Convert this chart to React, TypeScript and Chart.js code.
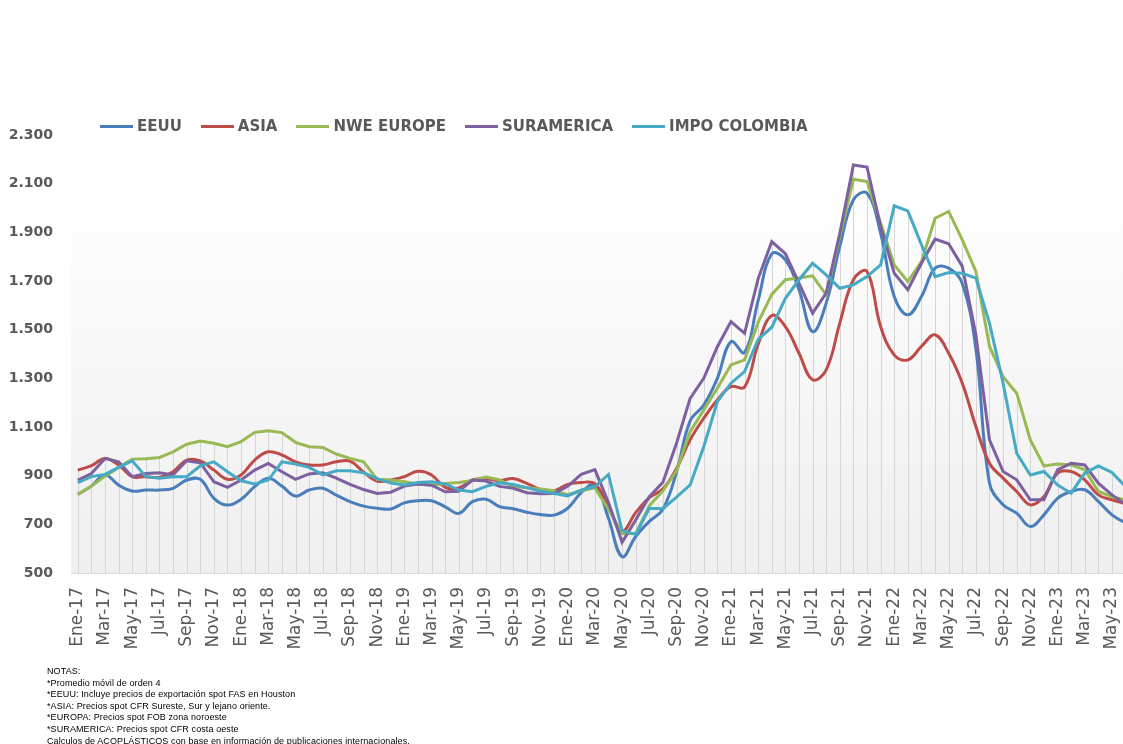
import React, { useEffect, useRef } from "react";
import { Chart, registerables } from "chart.js";

Chart.register(...registerables);

const monthNames = ["Ene", "Feb", "Mar", "Abr", "May", "Jun", "Jul", "Ago", "Sep", "Oct", "Nov", "Dic"];
const years = ["17", "18", "19", "20", "21", "22", "23"];
const lastYearMonths = 6;

const categories: string[] = [];
years.forEach((yy, yi) => {
  const n = yi === years.length - 1 ? lastYearMonths : 12;
  for (let m = 0; m < n; m++) categories.push(`${monthNames[m]}-${yy}`);
});

const eeuu = [
  823, 857, 903, 861, 837, 841, 841, 848, 882, 885, 807, 779,
  803, 855, 889, 857, 816, 841, 848, 820, 793, 775, 766, 763,
  788, 797, 797, 772, 745, 793, 803, 773, 764, 750, 740, 738,
  766, 830, 862, 725, 567, 650, 712, 762, 915, 1125, 1190, 1300,
  1451, 1406, 1620, 1812, 1787, 1664, 1492, 1609, 1842, 2034, 2061, 1896,
  1636, 1561, 1636, 1753, 1753, 1690, 1420, 870, 780, 746, 691, 739,
  807, 835, 842, 794, 739, 705,
];
const asia = [
  923, 941, 971, 944, 896, 896, 893, 916, 964, 961, 923, 885,
  903, 964, 998, 985, 957, 944, 944, 957, 960, 915, 878, 882,
  896, 918, 903, 852, 850, 882, 887, 880, 888, 868, 843, 838,
  864, 872, 867, 773, 672, 748, 810, 846, 930, 1047, 1136, 1211,
  1266, 1264, 1440, 1558, 1513, 1403, 1294, 1335, 1527, 1705, 1739, 1513,
  1396, 1376, 1431, 1479, 1403, 1280, 1102, 951, 890, 835, 780, 814,
  910, 917, 883, 821, 801, 785,
];
const nweEurope = [
  823, 857, 898, 934, 968, 970, 975, 998, 1029, 1042, 1033, 1019,
  1040, 1078, 1085, 1077, 1037, 1019, 1016, 989, 971, 957, 885, 882,
  875, 866, 861, 868, 872, 880, 894, 882, 855, 850, 845, 838,
  822, 838, 850, 762, 662, 662, 776, 838, 920, 1081, 1170, 1259,
  1355, 1376, 1530, 1645, 1705, 1712, 1721, 1643, 1883, 2118, 2109, 1938,
  1766, 1698, 1780, 1958, 1986, 1869, 1739, 1431, 1307, 1239, 1047, 940,
  948, 944, 924, 835, 814, 800,
];
const suramerica = [
  882, 909, 971, 957, 896, 909, 912, 903, 961, 953, 875, 852,
  882, 923, 950, 916, 885, 907, 912, 890, 864, 843, 827, 832,
  857, 866, 861, 834, 836, 882, 878, 856, 848, 830, 826, 827,
  856, 906, 925, 790, 626, 718, 814, 873, 1033, 1218, 1300, 1430,
  1533, 1485, 1710, 1862, 1812, 1691, 1568, 1650, 1896, 2177, 2168, 1924,
  1732, 1664, 1773, 1872, 1853, 1760, 1479, 1047, 917, 883, 801, 801,
  924, 951, 944, 869, 821, 782,
];
const impoColombia = [
  871, 896, 905, 934, 961, 896, 889, 896, 896, 940, 957, 916,
  879, 866, 882, 957, 948, 934, 903, 920, 920, 912, 888, 870,
  862, 872, 875, 866, 841, 834, 856, 871, 864, 851, 836, 827,
  817, 841, 855, 905, 674, 658, 766, 764, 812, 862, 1019, 1204,
  1280, 1328, 1460, 1510, 1629, 1705, 1773, 1725, 1670, 1684, 1718, 1766,
  2009, 1988, 1849, 1718, 1735, 1732, 1712, 1527, 1280, 992, 903, 917,
  862, 828, 910, 940, 913, 855,
];

const seriesNames = ["EEUU", "ASIA", "NWE EUROPE", "SURAMERICA", "IMPO COLOMBIA"];
const seriesValues = [eeuu, asia, nweEurope, suramerica, impoColombia];
const seriesColors = ["#4A7EBB", "#BE4B48", "#98B954", "#7D60A0", "#46AAC5"];
const seriesTension = [0.4, 0.4, 0, 0, 0];

const yMin = 500;
const yMax = 2300;
const yStep = 200;

const notes = [
  "NOTAS:",
  "*Promedio móvil de orden 4",
  "*EEUU: Incluye precios de exportación spot FAS en Houston",
  "*ASIA: Precios spot CFR Sureste, Sur y lejano oriente.",
  "*EUROPA: Precios spot FOB zona noroeste",
  "*SURAMERICA: Precios spot CFR costa oeste",
  "Calculos de ACOPLÁSTICOS con base en información de publicaciones internacionales.",
];

const CANVAS_W = 1160;
const CANVAS_H = 744;

function fmt(v: number): string {
  if (v >= 1000) {
    const th = Math.floor(v / 1000);
    const rest = String(v % 1000).padStart(3, "0");
    return `${th}.${rest}`;
  }
  return String(v);
}

const bgPlugin = {
  id: "plotBg",
  beforeDraw(chart: any) {
    const { ctx, chartArea } = chart;
    if (!chartArea) return;
    ctx.save();
    const g = ctx.createLinearGradient(0, chartArea.top, 0, chartArea.bottom);
    g.addColorStop(0, "#ffffff");
    g.addColorStop(0.2, "#fdfdfd");
    g.addColorStop(1, "#efefef");
    ctx.fillStyle = g;
    ctx.fillRect(chartArea.left, chartArea.top, chartArea.right - chartArea.left, chartArea.bottom - chartArea.top);
    ctx.restore();
  },
};

const dropLinesPlugin = {
  id: "dropLines",
  beforeDatasetsDraw(chart: any) {
    const { ctx, chartArea, scales } = chart;
    const x = scales.x;
    const y = scales.y;
    ctx.save();
    ctx.strokeStyle = "#d5d5d5";
    ctx.lineWidth = 1;
    for (let i = 0; i < categories.length; i++) {
      const vals = chart.data.datasets.map((d: any) => d.data[i]);
      const top = Math.max(...vals);
      const px = Math.round(x.getPixelForValue(i)) + 0.5;
      ctx.beginPath();
      ctx.moveTo(px, y.getPixelForValue(top));
      ctx.lineTo(px, chartArea.bottom);
      ctx.stroke();
    }
    ctx.restore();
  },
};

export default function App() {
  const ref = useRef<HTMLCanvasElement | null>(null);

  useEffect(() => {
    if (!ref.current) return;
    const chart = new Chart(ref.current, {
      type: "line",
      data: {
        labels: categories,
        datasets: seriesNames.map((name, i) => ({
          label: name,
          data: seriesValues[i],
          borderColor: seriesColors[i],
          backgroundColor: seriesColors[i],
          borderWidth: 3,
          pointRadius: 0,
          tension: seriesTension[i],
          fill: false,
          order: seriesNames.length - i,
        })),
      },
      options: {
        responsive: false,
        animation: false,
        devicePixelRatio: 1,
        layout: { padding: { top: 135, right: 6, bottom: 0, left: 0 } },
        plugins: {
          legend: { display: false },
          tooltip: { enabled: false },
        },
        scales: {
          x: {
            type: "category",
            offset: true,
            grid: { display: false, drawTicks: false },
            border: { display: true, color: "#d9d9d9", width: 1 },
            ticks: {
              autoSkip: false,
              minRotation: 90,
              maxRotation: 90,
              padding: 14,
              color: "#595959",
              font: { family: "DejaVu Sans", size: 17 },
              callback: (_v: any, index: number) => (index % 2 === 0 ? categories[index] : ""),
            },
            afterFit: (scale: any) => {
              scale.height = 171;
            },
          },
          y: {
            min: yMin,
            max: yMax,
            grid: { display: false, drawTicks: false },
            border: { display: false },
            ticks: {
              stepSize: yStep,
              padding: 18,
              color: "#595959",
              font: { family: "DejaVu Sans", size: 14, weight: "bold" },
              callback: (v: any) => fmt(Number(v)),
            },
            afterFit: (scale: any) => {
              scale.width = 71;
            },
          },
        },
      },
      plugins: [bgPlugin, dropLinesPlugin],
    });
    return () => chart.destroy();
  }, []);

  return (
    <div
      style={{
        position: "fixed",
        left: 0,
        top: 0,
        width: 1123,
        height: 744,
        overflow: "hidden",
        background: "#ffffff",
      }}
    >
      <canvas
        ref={ref}
        width={CANVAS_W}
        height={CANVAS_H}
        style={{ position: "absolute", left: 0, top: 0, width: CANVAS_W, height: CANVAS_H }}
      />
      <div
        style={{
          position: "absolute",
          left: 100,
          top: 116,
          display: "flex",
          alignItems: "center",
          fontFamily: "DejaVu Sans",
          fontWeight: "bold",
          fontSize: 15,
          color: "#595959",
          whiteSpace: "nowrap",
        }}
      >
        {seriesNames.map((name, i) => (
          <div key={name} style={{ display: "flex", alignItems: "center", marginRight: 19 }}>
            <span
              style={{
                display: "inline-block",
                width: 33,
                height: 3,
                background: seriesColors[i],
                marginRight: 4,
              }}
            />
            <span style={{ lineHeight: "20px" }}>{name}</span>
          </div>
        ))}
      </div>
      <div
        style={{
          position: "absolute",
          left: 47,
          top: 666,
          fontFamily: "Liberation Sans",
          fontSize: 9,
          lineHeight: "11.6px",
          letterSpacing: "0.1px",
          color: "#000000",
          whiteSpace: "nowrap",
        }}
      >
        {notes.map((t) => (
          <div key={t}>{t}</div>
        ))}
      </div>
    </div>
  );
}
